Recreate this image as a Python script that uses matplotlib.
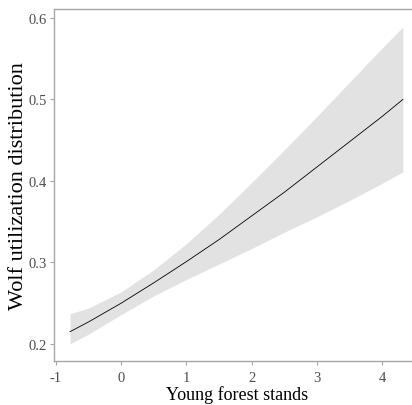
import numpy as np
import matplotlib
matplotlib.use('Agg')
import matplotlib.pyplot as plt

# ── data ──────────────────────────────────────────────────
young_forest = [-0.785, -0.5, 0.0, 0.5, 1.0, 1.5, 2.0, 2.5, 3.0, 3.5, 4.0, 4.32]
fit   = [0.215, 0.227, 0.250, 0.275, 0.301, 0.328, 0.357, 0.386, 0.417, 0.448, 0.479, 0.500]
lower = [0.200, 0.212, 0.236, 0.259, 0.279, 0.298, 0.317, 0.337, 0.356, 0.376, 0.397, 0.411]
upper = [0.237, 0.244, 0.264, 0.291, 0.323, 0.359, 0.398, 0.438, 0.479, 0.521, 0.563, 0.589]

x_ticks = [-1, 0, 1, 2, 3, 4]
y_ticks = [0.2, 0.3, 0.4, 0.5, 0.6]

serif = ['Liberation Serif', 'DejaVu Serif']
axis_grey = '#a6a6a6'

fig = plt.figure(figsize=(4.12, 4.06), dpi=100)
ax = fig.add_axes([54 / 412, 1 - 362 / 406, (419.5 - 54) / 412, (362 - 10) / 406])

ax.fill_between(young_forest, lower, upper, color='#e2e2e2', linewidth=0)
ax.plot(young_forest, fit, color='black', linewidth=0.6)

ax.set_xlim(-1.031, 4.575)
ax.set_ylim(0.179, 0.611)
ax.set_xticks(x_ticks)
ax.set_xticklabels([str(t) for t in x_ticks])
ax.set_yticks(y_ticks)
ax.set_yticklabels([f"{t:.1f}" for t in y_ticks])

for side in ['left', 'top', 'bottom']:
    ax.spines[side].set_color(axis_grey)
    ax.spines[side].set_linewidth(1.0)
ax.spines['right'].set_visible(False)

ax.tick_params(axis='both', direction='out', length=3, width=0.8,
               color=axis_grey, labelcolor='#4d4d4d', labelsize=10.5)
ax.tick_params(axis='y', pad=2)
ax.tick_params(axis='x', pad=4)
for lab in ax.get_xticklabels() + ax.get_yticklabels():
    lab.set_family(serif)

ax.set_xlabel("Young forest stands", fontsize=13, family=serif, color='black', labelpad=1)
ax.set_ylabel("Wolf utilization distribution", fontsize=16, family=serif, color='black')
ax.yaxis.set_label_coords(-0.07, 0.5)

plt.savefig('out.png', dpi=100)
plt.close()
